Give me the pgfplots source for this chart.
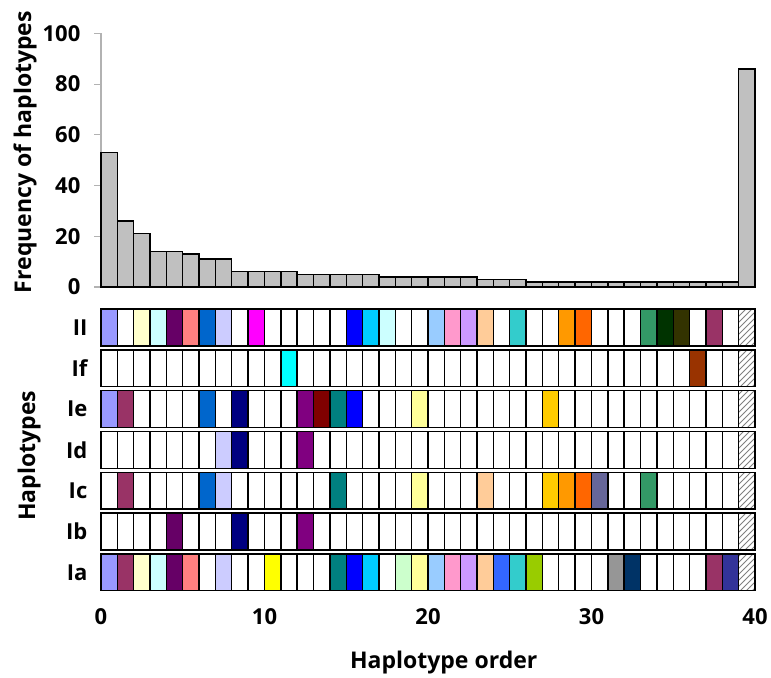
\documentclass[border=0pt]{standalone}
\usepackage{fontspec}
\setmainfont{Open Sans}
\usepackage{pgfplots}
\pgfplotsset{compat=1.18}
\usepackage{pgfplotstable}
\usetikzlibrary{patterns}

\definecolor{lav}{HTML}{9999FF}
\definecolor{ly}{HTML}{FFFFCC}
\definecolor{lc}{HTML}{CCFFFF}
\definecolor{dp}{HTML}{660066}
\definecolor{sal}{HTML}{FF8080}
\definecolor{bl}{HTML}{0066CC}
\definecolor{ll}{HTML}{CCCCFF}
\definecolor{mag}{HTML}{FF00FF}
\definecolor{bu}{HTML}{0000FF}
\definecolor{sky}{HTML}{00CCFF}
\definecolor{lb}{HTML}{99CCFF}
\definecolor{pk}{HTML}{FF99CC}
\definecolor{lp}{HTML}{CC99FF}
\definecolor{pe}{HTML}{FFCC99}
\definecolor{tc}{HTML}{33CCCC}
\definecolor{orn}{HTML}{FF9900}
\definecolor{orr}{HTML}{FF6600}
\definecolor{sg}{HTML}{339966}
\definecolor{dg}{HTML}{003300}
\definecolor{dol}{HTML}{333300}
\definecolor{pl}{HTML}{993366}
\definecolor{cy}{HTML}{00FFFF}
\definecolor{br}{HTML}{993300}
\definecolor{nv}{HTML}{000080}
\definecolor{pu}{HTML}{800080}
\definecolor{mr}{HTML}{800000}
\definecolor{te}{HTML}{008080}
\definecolor{yl}{HTML}{FFFF99}
\definecolor{gd}{HTML}{FFCC00}
\definecolor{sl}{HTML}{666699}
\definecolor{ye}{HTML}{FFFF00}
\definecolor{lg}{HTML}{CCFFCC}
\definecolor{bt}{HTML}{3366FF}
\definecolor{yg}{HTML}{99CC00}
\definecolor{gr}{HTML}{969696}
\definecolor{db}{HTML}{003366}
\definecolor{ind}{HTML}{333399}
\definecolor{barfill}{HTML}{C0C0C0}

\pgfplotstableread{
x f
0.5 53
1.5 26
2.5 21
3.5 14
4.5 14
5.5 13
6.5 11
7.5 11
8.5 6
9.5 6
10.5 6
11.5 6
12.5 5
13.5 5
14.5 5
15.5 5
16.5 5
17.5 4
18.5 4
19.5 4
20.5 4
21.5 4
22.5 4
23.5 3
24.5 3
25.5 3
26.5 2
27.5 2
28.5 2
29.5 2
30.5 2
31.5 2
32.5 2
33.5 2
34.5 2
35.5 2
36.5 2
37.5 2
38.5 2
39.5 86
}\freq

\pgfplotstableread{
x II If Ie Id Ic Ib Ia
0.5 lav w lav w w w lav
1.5 w w pl w pl w pl
2.5 ly w w w w w ly
3.5 lc w w w w w lc
4.5 dp w w w w dp dp
5.5 sal w w w w w sal
6.5 bl w bl w bl w w
7.5 ll w w ll ll w ll
8.5 w w nv nv w nv w
9.5 mag w w w w w w
10.5 w w w w w w ye
11.5 w cy w w w w w
12.5 w w pu pu w pu w
13.5 w w mr w w w w
14.5 w w te w te w te
15.5 bu w bu w w w bu
16.5 sky w w w w w sky
17.5 lc w w w w w w
18.5 w w w w w w lg
19.5 w w yl w yl w yl
20.5 lb w w w w w lb
21.5 pk w w w w w pk
22.5 lp w w w w w lp
23.5 pe w w w pe w pe
24.5 w w w w w w bt
25.5 tc w w w w w tc
26.5 w w w w w w yg
27.5 w w gd w gd w w
28.5 orn w w w orn w w
29.5 orr w w w orr w w
30.5 w w w w sl w w
31.5 w w w w w w gr
32.5 w w w w w w db
33.5 sg w w w sg w w
34.5 dg w w w w w w
35.5 dol w w w w w w
36.5 w br w w w w w
37.5 pl w w w w w pl
38.5 w w w w w w ind
39.5 h h h h h h h
}\cells

\pgfplotsset{
  cellplot/.style={only marks, mark=square*, mark size=4.0875pt,
    mark options={yscale=2.25, line width=0.7pt, draw=black},
    scatter, scatter src=explicit symbolic,
    scatter/classes={
      w={fill=white}, lav={fill=lav}, ly={fill=ly}, lc={fill=lc}, dp={fill=dp},
      sal={fill=sal}, bl={fill=bl}, ll={fill=ll}, mag={fill=mag}, bu={fill=bu},
      sky={fill=sky}, lb={fill=lb}, pk={fill=pk}, lp={fill=lp}, pe={fill=pe},
      tc={fill=tc}, orn={fill=orn}, orr={fill=orr}, sg={fill=sg}, dg={fill=dg},
      dol={fill=dol}, pl={fill=pl}, cy={fill=cy}, br={fill=br}, nv={fill=nv},
      pu={fill=pu}, mr={fill=mr}, te={fill=te}, yl={fill=yl}, gd={fill=gd},
      sl={fill=sl}, ye={fill=ye}, lg={fill=lg}, bt={fill=bt}, yg={fill=yg},
      gr={fill=gr}, db={fill=db}, ind={fill=ind},
      h={pattern=north east lines, pattern color=gray}
    }},
}

\begin{document}
\begin{tikzpicture}[font=\bfseries\fontsize{11.5}{13}\selectfont]
\useasboundingbox (0,0) rectangle (385.5pt,338.5pt);
% top frequency plot
\begin{axis}[
  at={(50.5pt,195pt)}, anchor=south west, scale only axis,
  width=327pt, height=126.8pt,
  xmin=0, xmax=40, ymin=0, ymax=100,
  axis x line=none, axis y line*=left,
  y axis line style={draw=gray!60, line width=0.6pt},
  ytick={0,20,40,60,80,100},
  ytick align=outside, major tick length=3.3pt,
  tick style={draw=gray!60, line width=0.6pt},
  /pgf/number format/assume math mode=true,
  ticklabel style={font=\bfseries\fontsize{11}{13}\selectfont},
  yticklabel style={xshift=-3.5pt},
  clip=false,
  ylabel={Frequency of haplotypes},
  every axis y label/.style={at={(axis description cs:-0.1162,0.532)}, rotate=90, anchor=center},
]
\addplot[ybar, bar width=1, fill=barfill, draw=black, line width=0.7pt] table[x=x,y=f] {\freq};
\end{axis}
% bottom haplotype grid
\begin{axis}[
  at={(50.5pt,42.15pt)}, anchor=south west, scale only axis,
  width=327pt, height=142.8pt,
  xmin=0, xmax=40, ymin=0.5, ymax=7.5,
  axis x line*=bottom, axis y line*=left,
  axis line style={draw=none},
  major tick length=0pt, tick style={draw=none},
  xtick={0,10,20,30,40},
  ytick={1,2,3,4,5,6,7},
  yticklabels={Ia,Ib,Ic,Id,Ie,If,II},
  /pgf/number format/assume math mode=true,
  ticklabel style={font=\bfseries\fontsize{11}{13}\selectfont},
  xticklabel style={anchor=center, yshift=-12.15pt},
  yticklabel style={anchor=east, xshift=-3.3pt},
  clip=false,
  ylabel={Haplotypes},
  every axis y label/.style={at={(axis description cs:-0.110,0.479)}, rotate=90, anchor=center},
  xlabel={Haplotype order},
  every axis x label/.style={at={(axis description cs:0.524,-0.246)}, anchor=center},
]
\addplot[cellplot] table[x=x, y expr=7, meta=II] {\cells};
\addplot[cellplot] table[x=x, y expr=6, meta=If] {\cells};
\addplot[cellplot] table[x=x, y expr=5, meta=Ie] {\cells};
\addplot[cellplot] table[x=x, y expr=4, meta=Id] {\cells};
\addplot[cellplot] table[x=x, y expr=3, meta=Ic] {\cells};
\addplot[cellplot] table[x=x, y expr=2, meta=Ib] {\cells};
\addplot[cellplot] table[x=x, y expr=1, meta=Ia] {\cells};
\end{axis}
\end{tikzpicture}
\end{document}
